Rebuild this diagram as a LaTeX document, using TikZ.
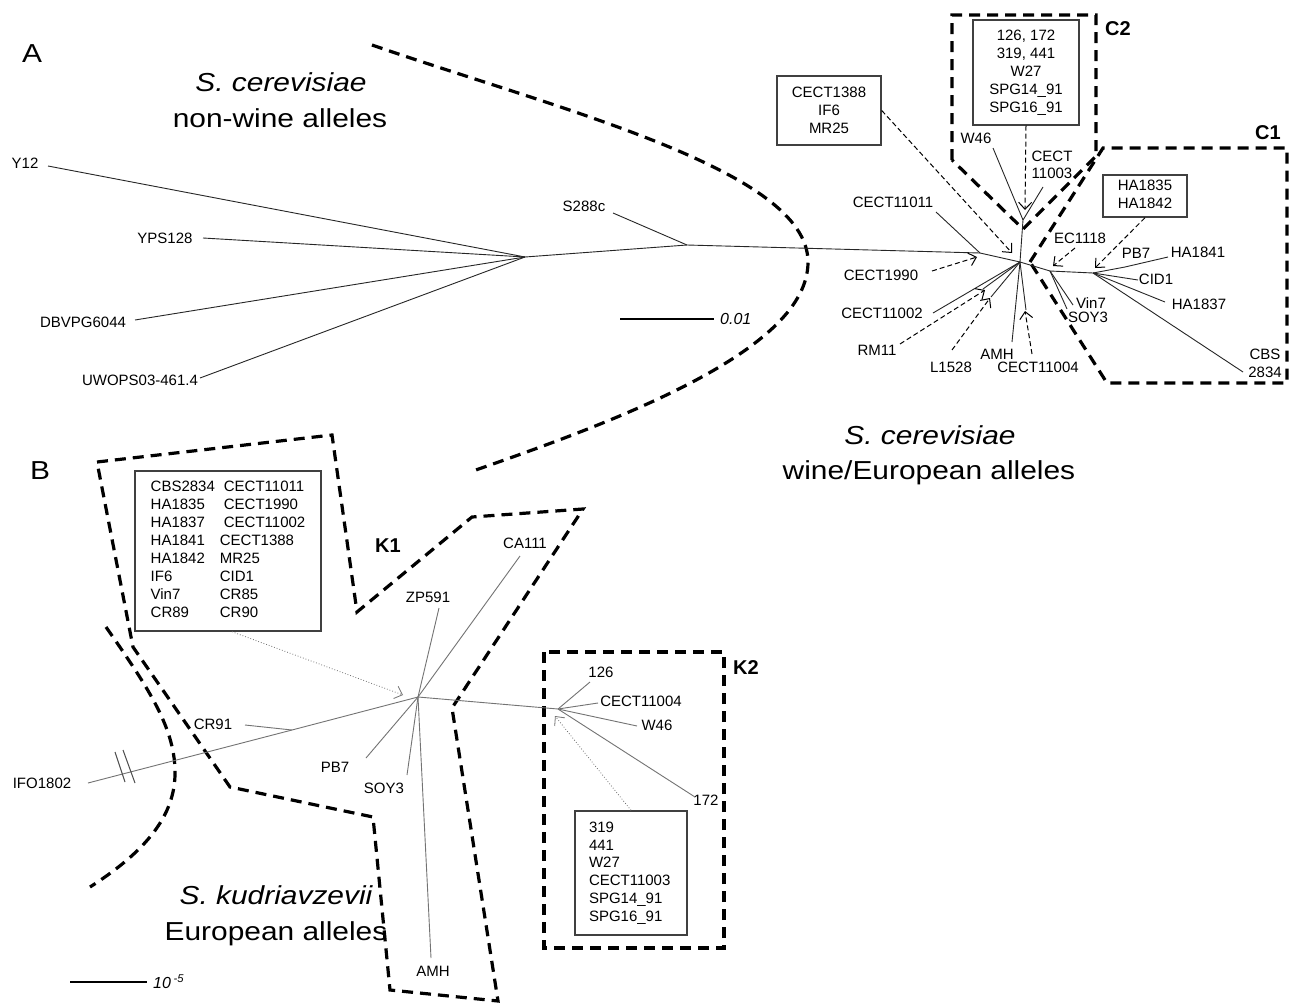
\documentclass[tikz,border=0pt]{standalone}
\usepackage{fontspec}
\setmainfont{Liberation Sans}
\newfontfamily\bigfont[FakeStretch=1.15]{Liberation Sans}
\usetikzlibrary{arrows.meta}
\begin{document}
\begin{tikzpicture}[x=1pt,y=-1pt,
 lbl/.style={font=\fontsize{15}{18}\selectfont, inner sep=0pt},
 big/.style={font=\bigfont\fontsize{26}{31}\selectfont, inner sep=0pt},
 tag/.style={font=\fontsize{20}{24}\selectfont\bfseries, inner sep=0pt},
 brA/.style={draw=black!85, line width=0.9pt},
 brB/.style={draw=black!55, line width=0.9pt},
 region/.style={draw=black, line width=3.2pt, dash pattern=on 11pt off 7pt, line join=miter},
 box/.style={draw=black!75, line width=1.4pt, inner sep=0pt, font=\fontsize{15}{18}\selectfont},
 darr/.style={draw=black, line width=1pt, dash pattern=on 5pt off 3pt, -{Straight Barb[length=7pt,width=13pt]}},
 parr/.style={draw=black!55, line width=0.8pt, dotted, -{Straight Barb[length=7pt,width=13pt]}},
 scalebar/.style={draw=black, line width=1.5pt},
]
\path[use as bounding box, fill=white] (0,0) rectangle (1296,1004);

% ================= Panel A =================
\node[big, anchor=base] (labA) at (32,62) {A};
\node[big, anchor=base] (ncT) at (281,91) {\itshape S. cerevisiae};
\node[big, anchor=base] (ncS) at (280,127) {non-wine alleles};
\node[big, anchor=base] (wT) at (930,444) {\itshape S. cerevisiae};
\node[big, anchor=base] (wS) at (929,479) {wine/European alleles};

% region boundaries
\draw[region] (372,45) .. controls (560,110) and (808,170) .. (808,262)
              .. controls (808,350) and (620,420) .. (470,472);
\draw[region] (952,160) -- (952,15) -- (1096,15) -- (1096,156) -- (1023,229) -- cycle;
\draw[region] (1030,262) -- (1103,148) -- (1287,148) -- (1287,383) -- (1107,383) -- cycle;
\node[tag] (tC2) at (1118,29) {C2};
\node[tag] (tC1) at (1268,133) {C1};

% leaf labels
\node[lbl] (lY12) at (25,163) {Y12};
\node[lbl] (lYPS) at (165,238) {YPS128};
\node[lbl] (lDBV) at (83,322) {DBVPG6044};
\node[lbl] (lUW) at (140,380) {UWOPS03-461.4};
\node[lbl] (lS288) at (584,206) {S288c};
\node[lbl] (lC11011) at (893,202) {CECT11011};
\node[lbl] (lC1990) at (881,275) {CECT1990};
\node[lbl] (lC11002) at (882,313) {CECT11002};
\node[lbl] (lRM11) at (877,350) {RM11};
\node[lbl] (lL1528) at (951,367) {L1528};
\node[lbl] (lAMHa) at (997,354) {AMH};
\node[lbl] (lC11004a) at (1038,367) {CECT11004};
\node[lbl] (lW46a) at (976,138) {W46};
\node[lbl, align=center, font=\fontsize{15}{17}\selectfont] (lC11003a) at (1052,165) {CECT\\11003};
\node[lbl] (lEC) at (1080,238) {EC1118};
\node[lbl] (lPB7a) at (1136,253) {PB7};
\node[lbl] (lHA1841) at (1198,252) {HA1841};
\node[lbl] (lCID1) at (1156,279) {CID1};
\node[lbl] (lHA1837) at (1199,304) {HA1837};
\node[lbl] (lVin7) at (1091,303) {Vin7};
\node[lbl] (lSOY3a) at (1088,317) {SOY3};
\node[lbl, align=center] (lCBS) at (1265,363) {CBS\\2834};

% boxes
\node[box, minimum width=104pt, minimum height=69pt, align=center] (bxA) at (829,110.5) {CECT1388\\IF6\\MR25};
\node[box, minimum width=106pt, minimum height=105pt, align=center] (bxC2) at (1026,72.5) {126, 172\\319, 441\\W27\\SPG14\_91\\SPG16\_91};
\node[box, minimum width=84pt, minimum height=42pt, align=center] (bxC1) at (1145,196) {\raisebox{-4pt}{\begin{tabular}{@{}c@{}}HA1835\\HA1842\end{tabular}}};

% tree A internal nodes and tips
\coordinate (a0) at (525,257);
\coordinate (a1) at (687,245);
\coordinate (a2) at (980,253);
\coordinate (a3) at (1020,262);
\coordinate (a4) at (1023,220);
\coordinate (a5) at (1050,271);
\coordinate (a6) at (1093,273);
\coordinate (pb7tip) at (1125,267);
\coordinate (tY12) at (48,166);
\coordinate (tYPS) at (203,238);
\coordinate (tDBV) at (135,320);
\coordinate (tUW) at (200,378);
\coordinate (tS288) at (613,213);
\coordinate (tC11011) at (936,212);
\coordinate (tC11002) at (933,313);
\coordinate (tfan1) at (983,289);
\coordinate (tfan2) at (991,297);
\coordinate (tAMHa) at (1012,342);
\coordinate (tC11004a) at (1026,310);
\coordinate (tW46a) at (993,148);
\coordinate (tC11003a) at (1043,187);
\coordinate (tVin7) at (1073,305);
\coordinate (tSOY3a) at (1067,309);
\coordinate (tHA1841) at (1168,257);
\coordinate (tCID1) at (1138,280);
\coordinate (tHA1837) at (1165,302);
\coordinate (tCBS) at (1243,372);

\draw[brA] (tY12) -- (a0);
\draw[brA] (tYPS) -- (a0);
\draw[brA] (tDBV) -- (a0);
\draw[brA] (tUW) -- (a0);
\draw[brA] (a0) -- (a1) -- (a2) -- (a3);
\draw[brA] (tS288) -- (a1);
\draw[brA] (tC11011) -- (a2);
\draw[brA] (tC11002) -- (a3);
\draw[brA] (tfan1) -- (a3);
\draw[brA] (tfan2) -- (a3);
\draw[brA] (tAMHa) -- (a3);
\draw[brA] (tC11004a) -- (a3);
\draw[brA] (a3) -- (a4);
\draw[brA] (tW46a) -- (a4);
\draw[brA] (tC11003a) -- (a4);
\draw[brA] (a3) -- (a5) -- (a6);
\draw[brA] (a5) -- (tVin7);
\draw[brA] (a5) -- (tSOY3a);
\draw[brA] (a6) -- (pb7tip) -- (tHA1841);
\draw[brA] (a6) -- (tCID1);
\draw[brA] (a6) -- (tHA1837);
\draw[brA] (a6) -- (tCBS);

% dashed arrows A
\coordinate (hA) at (1012,253);
\coordinate (hC2) at (1025,210);
\coordinate (h1990) at (977,257);
\coordinate (hRM) at (985,290);
\coordinate (hL) at (990,298);
\coordinate (h11004) at (1025,311);
\coordinate (hEC) at (1053,266);
\coordinate (hC1) at (1095,268);
\coordinate (sC1990) at (932,271);
\coordinate (sRM) at (900,344);
\coordinate (sL) at (952,350);
\coordinate (s11004) at (1032,354);
\coordinate (sEC) at (1075,248);
\draw[darr] (bxA.east) -- (hA);
\draw[darr] (bxC2.south) -- (hC2);
\draw[darr] (sC1990) -- (h1990);
\draw[darr] (sRM) -- (hRM);
\draw[darr] (sL) -- (hL);
\draw[darr] (s11004) -- (h11004);
\draw[darr] (sEC) -- (hEC);
\draw[darr] (bxC1.south) -- (hC1);

% scale bar A
\coordinate (sbA1) at (620,319);
\coordinate (sbA2) at (714,319);
\draw[scalebar] (sbA1) -- (sbA2);
\node[anchor=west, inner sep=0pt, font=\fontsize{16}{19}\selectfont\itshape] (sbAl) at (720,319) {0.01};

% ================= Panel B =================
\node[big, anchor=base] (labB) at (40,479) {B};
\node[big, anchor=base] (kT) at (276,904) {\itshape S. kudriavzevii};
\node[big, anchor=base] (kS) at (276,940) {European alleles};

% region boundaries
\draw[region] (97,462) -- (332,435) -- (357,612) -- (472,517) -- (583,509) -- (452,708)
   -- (498,1001) -- (390,990) -- (373,817) -- (230,787) -- (133,647) -- cycle;
\draw[region] (106,627) .. controls (150,690) and (176,730) .. (175,775)
   .. controls (174,820) and (140,855) .. (90,887);
\draw[region] (544,652) rectangle (724,948);
\node[tag] (tK1) at (388,546) {K1};
\node[tag] (tK2) at (746,668) {K2};

% labels
\node[lbl] (lIFO) at (42,783) {IFO1802};
\node[lbl] (lCR91) at (213,724) {CR91};
\node[lbl] (lZP) at (428,597) {ZP591};
\node[lbl] (lCA) at (525,543) {CA111};
\node[lbl] (lPB7b) at (335,767) {PB7};
\node[lbl] (lSOY3b) at (384,788) {SOY3};
\node[lbl] (lAMHb) at (433,971) {AMH};
\node[lbl] (l126) at (601,672) {126};
\node[lbl] (l11004b) at (641,701) {CECT11004};
\node[lbl] (lW46b) at (657,725) {W46};
\node[lbl] (l172) at (706,800) {172};

% boxes
\node[box, minimum width=186pt, minimum height=160pt] (bxB1) at (228,551) {%
\begin{tabular}{@{}l@{\hspace{5pt}}l@{}}
CBS2834 & \hspace{4pt}CECT11011\\
HA1835 & \hspace{4pt}CECT1990\\
HA1837 & \hspace{4pt}CECT11002\\
HA1841 & CECT1388\\
HA1842 & MR25\\
IF6 & CID1\\
Vin7 & CR85\\
CR89 & CR90
\end{tabular}};
\node[box, minimum width=112pt, minimum height=124pt, text width=84pt, align=left, font=\fontsize{15}{17.8}\selectfont] (bxB2) at (631,873) {319\\441\\W27\\CECT11003\\SPG14\_91\\SPG16\_91};

% tree B
\coordinate (b0) at (418,697);
\coordinate (b1) at (558,709);
\coordinate (b2) at (292,730);
\coordinate (tIFO) at (88,783);
\coordinate (tCR91) at (245,725);
\coordinate (tZP) at (439,608);
\coordinate (tCA) at (520,556);
\coordinate (tPB7b) at (366,758);
\coordinate (tSOY3b) at (407,775);
\coordinate (tAMHb) at (431,958);
\coordinate (t126) at (590,682);
\coordinate (t11004b) at (598,703);
\coordinate (tW46b) at (637,726);
\coordinate (t172) at (695,797);
\draw[brB] (tIFO) -- (b2) -- (b0);
\draw[brB] (tCR91) -- (b2);
\draw[brB] (tZP) -- (b0);
\draw[brB] (tCA) -- (b0);
\draw[brB] (tPB7b) -- (b0);
\draw[brB] (tSOY3b) -- (b0);
\draw[brB] (tAMHb) -- (b0);
\draw[brB] (b0) -- (b1);
\draw[brB] (t126) -- (b1);
\draw[brB] (t11004b) -- (b1);
\draw[brB] (tW46b) -- (b1);
\draw[brB] (t172) -- (b1);
% break marks
\coordinate (brk1a) at (115,752); \coordinate (brk1b) at (125,782);
\coordinate (brk2a) at (123,750); \coordinate (brk2b) at (135,783);
\draw[black!70, line width=1pt] (brk1a) -- (brk1b);
\draw[black!70, line width=1pt] (brk2a) -- (brk2b);

% dotted arrows B
\coordinate (hB1) at (403,695);
\coordinate (hB2) at (555,716);
\draw[parr] ([xshift=4pt]bxB1.south) -- (hB1);
\draw[parr] (bxB2.north) -- (hB2);

% scale bar B
\coordinate (sbB1) at (70,982);
\coordinate (sbB2) at (147,982);
\draw[scalebar] (sbB1) -- (sbB2);
\node[anchor=west, inner sep=0pt, font=\fontsize{16}{19}\selectfont\itshape] (sbBl) at (153,982) {10\,\textsuperscript{-5}};
\end{tikzpicture}
\end{document}
